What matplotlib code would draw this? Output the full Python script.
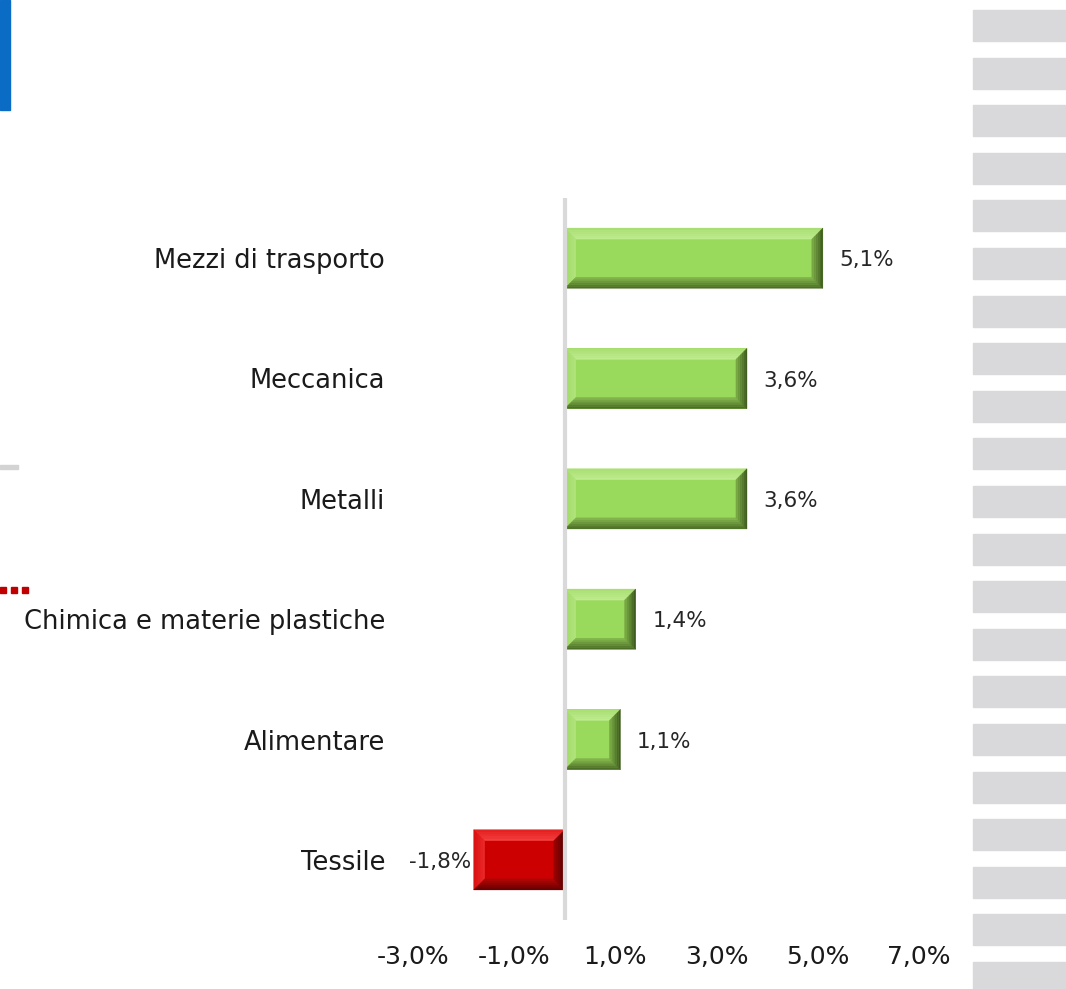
import matplotlib
matplotlib.use("Agg")
import matplotlib.pyplot as plt
from matplotlib.patches import Polygon, Rectangle
from matplotlib.colors import to_rgb

categories = ["Tessile", "Alimentare", "Chimica e materie plastiche",
              "Metalli", "Meccanica", "Mezzi di trasporto"]
values = [-1.8, 1.1, 1.4, 3.6, 3.6, 5.1]
value_labels = ["-1,8%", "1,1%", "1,4%", "3,6%", "3,6%", "5,1%"]
xtick_values = [-3, -1, 1, 3, 5, 7]
xtick_labels = ["-3,0%", "-1,0%", "1,0%", "3,0%", "5,0%", "7,0%"]

W, H, DPI = 1066, 989, 100
plt.rcParams['font.family'] = ['DejaVu Sans']
fig = plt.figure(figsize=(W / DPI, H / DPI), dpi=DPI)
fig.patch.set_facecolor("white")

# ---- slide decorations ----
for i in range(21):
    y_top = 10 + i * 47.6
    fig.patches.append(Rectangle((973 / W, 1 - (y_top + 31) / H), 93 / W, 31 / H,
                                 transform=fig.transFigure, color="#D9D9DB", zorder=0))
fig.patches.append(Rectangle((0, 1 - 110 / H), 10 / W, 110 / H,
                             transform=fig.transFigure, color="#0A6CC4", zorder=0))
fig.patches.append(Rectangle((0, 1 - 469 / H), 18 / W, 4 / H,
                             transform=fig.transFigure, color="#D3D3D3", zorder=0))
for k in range(3):
    fig.patches.append(Rectangle(((0 + k * 11) / W, 1 - 593 / H), 6 / W, 6 / H,
                                 transform=fig.transFigure, color="#C00000", zorder=0))

# ---- axes ----
ax_l, ax_r, ax_t, ax_b = 413, 919, 198, 920
ax = fig.add_axes([ax_l / W, 1 - ax_b / H, (ax_r - ax_l) / W, (ax_b - ax_t) / H])
xmin, xmax = -3, 7
ymin, ymax = -0.5, len(categories) - 0.5
ax.set_xlim(xmin, xmax)
ax.set_ylim(ymin, ymax)
for s in ax.spines.values():
    s.set_visible(False)

bar_h = 0.5
pos = list(range(len(categories)))
colors_face = ["#CC0000" if v < 0 else "#99D95B" for v in values]
bars = ax.barh(pos, values, height=bar_h, color=colors_face, zorder=2, linewidth=0)

px_per_x = (ax_r - ax_l) / (xmax - xmin)
px_per_y = (ax_b - ax_t) / (ymax - ymin)
bev = 11

green = dict(top=("#A9DF72", "#C0EC90"), left=("#A0DA66", "#B2E47E"),
             right=("#3A561C", "#7DAE47"), bottom=("#476822", "#86B94F"))
red = dict(top=("#E52020", "#F54040"), left=("#DA1010", "#EC2A2A"),
           right=("#4E0000", "#A00000"), bottom=("#5E0000", "#B00808"))


def mix(c1, c2, t):
    a, b = to_rgb(c1), to_rgb(c2)
    return tuple(a[i] + (b[i] - a[i]) * t for i in range(3))


nsteps = 6
for b, v in zip(bars, values):
    x0 = b.get_x()
    x1 = x0 + b.get_width()
    if x1 < x0:
        x0, x1 = x1, x0
    y0 = b.get_y()
    y1 = y0 + b.get_height()
    c = red if v < 0 else green
    for k in range(nsteps):
        ta = bev * k / nsteps
        tb = bev * (k + 1) / nsteps
        ax_a, ay_a = ta / px_per_x, ta / px_per_y
        ax_b2, ay_b = tb / px_per_x, tb / px_per_y
        frac = (k + 0.5) / nsteps
        polys = {
            "top": [(x0 + ax_a, y1 - ay_a), (x1 - ax_a, y1 - ay_a),
                    (x1 - ax_b2, y1 - ay_b), (x0 + ax_b2, y1 - ay_b)],
            "bottom": [(x0 + ax_a, y0 + ay_a), (x1 - ax_a, y0 + ay_a),
                       (x1 - ax_b2, y0 + ay_b), (x0 + ax_b2, y0 + ay_b)],
            "left": [(x0 + ax_a, y0 + ay_a), (x0 + ax_a, y1 - ay_a),
                     (x0 + ax_b2, y1 - ay_b), (x0 + ax_b2, y0 + ay_b)],
            "right": [(x1 - ax_a, y0 + ay_a), (x1 - ax_a, y1 - ay_a),
                      (x1 - ax_b2, y1 - ay_b), (x1 - ax_b2, y0 + ay_b)],
        }
        for side in ["top", "left", "bottom", "right"]:
            col = mix(c[side][0], c[side][1], frac)
            ax.add_patch(Polygon(polys[side], closed=True, facecolor=col,
                                 edgecolor=col, linewidth=0.3, zorder=3))

ax.axvline(0, color="#D9D9D9", lw=3, zorder=4)

for b, v, lab in zip(bars, values, value_labels):
    yc = b.get_y() + b.get_height() / 2
    if v >= 0:
        ax.annotate(lab, (v, yc), xytext=(12, -1.5), textcoords="offset points",
                    ha="left", va="center", fontsize=15.5, color="#262626")
    else:
        ax.annotate(lab, (v, yc), xytext=(-1.5, -1.5), textcoords="offset points",
                    ha="right", va="center", fontsize=15.5, color="#262626")

ax.set_yticks(pos)
ax.set_yticklabels(categories, fontsize=18.5, color="#1A1A1A")
ax.set_xticks(xtick_values)
ax.set_xticklabels(xtick_labels, fontsize=18, color="#1A1A1A")
ax.tick_params(axis="y", length=0, pad=20)
ax.tick_params(axis="x", length=0, pad=18)

fig.savefig("out.png", dpi=DPI, facecolor="white")
